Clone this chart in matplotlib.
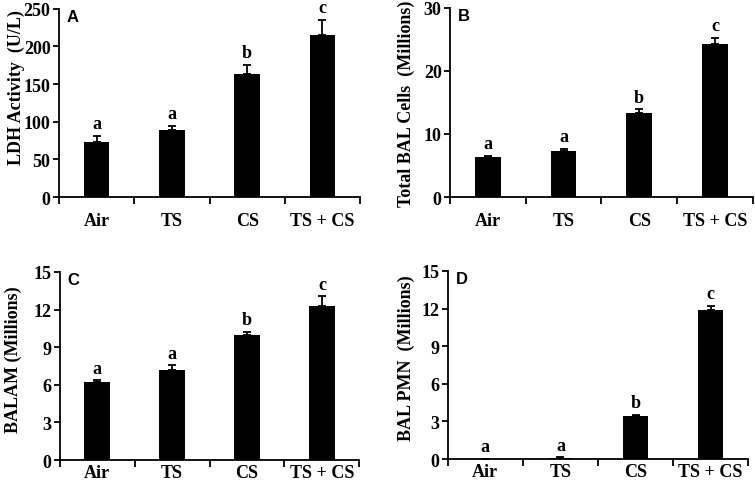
import numpy as np
import matplotlib.pyplot as plt

groups = ['Air', 'TS', 'CS', 'TS + CS']

ldh = [73, 89, 164, 215]
ldh_err = [8, 5, 12, 20]
total_bal = [6.3, 7.3, 13.4, 24.2]
total_bal_err = [0.2, 0.3, 0.5, 1.0]
bal_am = [6.25, 7.15, 9.95, 12.3]
bal_am_err = [0.1, 0.4, 0.25, 0.75]
bal_pmn = [0.03, 0.12, 3.45, 11.85]
bal_pmn_err = [0.01, 0.03, 0.05, 0.35]
sig = ['a', 'a', 'b', 'c']

panels = [
    # letter, values, errors, ymax, step, ylabel, label x, label y, rect
    ('A', ldh, ldh_err, 250, 50, 'LDH Activity  (U/L)', -0.113, 0.585, [0.078, 0.595, 0.399, 0.385]),
    ('B', total_bal, total_bal_err, 30, 10, 'Total BAL Cells  (Millions)', -0.115, 0.5, [0.596, 0.595, 0.401, 0.387]),
    ('C', bal_am, bal_am_err, 15, 3, 'BALAM (Millions)', -0.125, 0.54, [0.079, 0.057, 0.397, 0.385]),
    ('D', bal_pmn, bal_pmn_err, 15, 3, 'BAL PMN  (Millions)', -0.11, 0.54, [0.593, 0.059, 0.398, 0.385]),
]

serif = 'Liberation Serif'
fig = plt.figure(figsize=(7.55, 4.89), dpi=100)

for letter, vals, errs, ymax, step, ylab, labx, laby, rect in panels:
    ax = fig.add_axes(rect)
    x = np.arange(len(groups))
    ax.bar(x, vals, width=0.34, color='black', zorder=2)
    ax.errorbar(x, vals, yerr=[np.zeros(len(vals)), errs], fmt='none',
                ecolor='black', elinewidth=1.3, capsize=3, capthick=1.3, zorder=1)
    ax.set_xlim(-0.5, 3.5)
    ax.set_ylim(0, ymax)
    ticks = np.arange(0, ymax + 0.001, step)
    ax.set_yticks(ticks)
    ax.set_yticklabels([str(int(v)) for v in ticks],
                       fontfamily=serif, fontweight='bold', fontsize=13)
    ax.set_xticks(np.arange(-0.5, 4, 1))
    ax.set_xticklabels([])
    ax.set_xticks(x, minor=True)
    pad = 11 if letter in ('A', 'B') else 3
    ax.set_xticklabels(groups, minor=True, fontfamily=serif, fontweight='bold', fontsize=13)
    ax.tick_params(axis='x', which='minor', length=0, pad=pad)
    ax.tick_params(axis='x', which='major', direction='out', length=5, width=1.3)
    ax.tick_params(axis='y', direction='out', length=4, width=1.3, pad=2)
    for s in ('top', 'right'):
        ax.spines[s].set_visible(False)
    for s in ('left', 'bottom'):
        ax.spines[s].set_linewidth(1.3)
    ax.set_ylabel(ylab, fontfamily=serif, fontweight='bold', fontsize=13)
    ax.yaxis.set_label_coords(labx, laby)
    for xi, v, e, t in zip(x, vals, errs, sig):
        ax.text(xi, v + e + ymax * 0.02, t, ha='center', va='bottom',
                fontfamily=serif, fontweight='bold', fontsize=13)
    ax.text(0.027, 1.0, letter, transform=ax.transAxes, ha='left', va='top',
            fontfamily='Liberation Sans', fontweight='bold', fontsize=12)

fig.savefig('out.png', dpi=100)
